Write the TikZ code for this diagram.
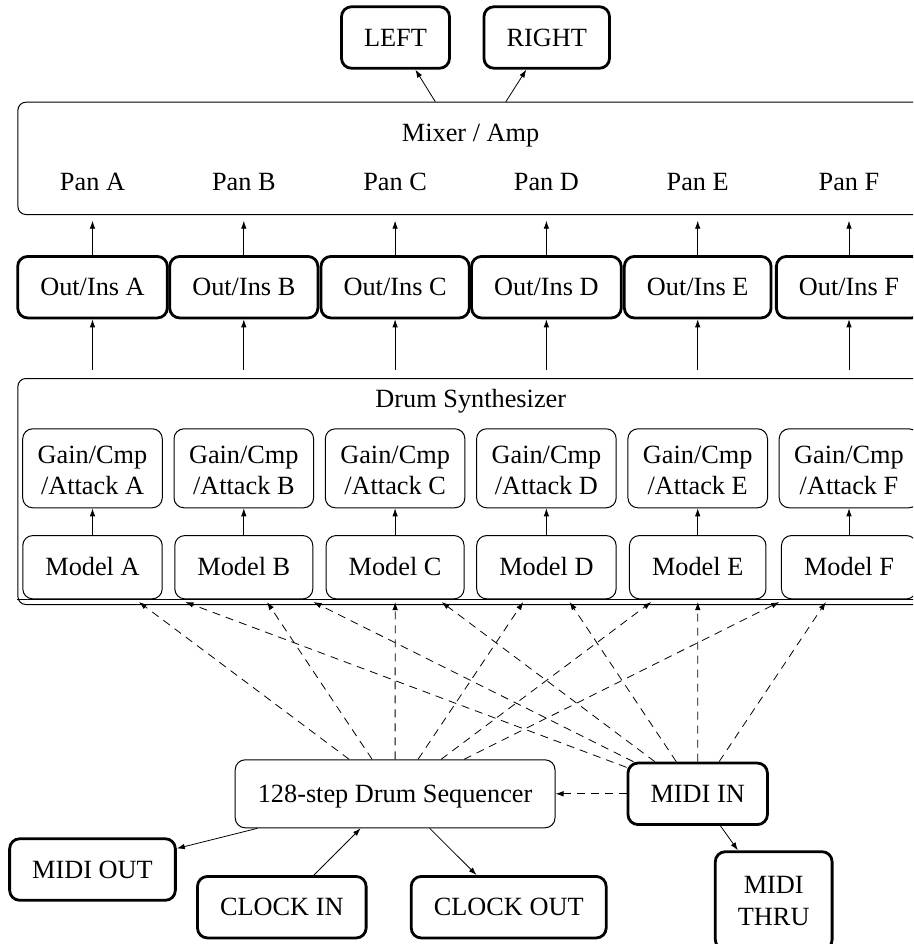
\documentclass[tikz,border=0pt]{standalone}
\usepackage{fontspec}
\setmainfont{Liberation Serif}
\usetikzlibrary{arrows.meta}
\newcommand\dfont{\fontsize{26.3pt}{31.7pt}\selectfont}
\begin{document}
\begin{tikzpicture}[x=1pt,y=-1pt,
  every node/.style={font=\dfont, text height=17.4pt, text depth=0pt},
  thickbox/.style={draw, line width=2.8pt, rounded corners=10pt, inner xsep=22.6pt, minimum height=61.5pt, align=center},
  thinbox/.style={draw, line width=1pt, rounded corners=10pt, inner xsep=22.6pt, minimum height=63.3pt, align=center},
  twoline/.style={text height=49.1pt, text depth=0pt},
  gainbox/.style={thinbox, text height=53pt, text depth=0pt, inner xsep=15pt, minimum height=79pt},
  bigbox/.style={draw, line width=1pt, rounded corners=8pt, inner sep=0pt},
  lbl/.style={inner xsep=0pt, inner ysep=30pt, anchor=base},
  arr/.style={-{Latex[length=8pt,width=5.5pt]}, line width=0.8pt},
  dsh/.style={arr, dash pattern=on 8pt off 6pt},
]
\useasboundingbox (0,0) rectangle (913,944);
\clip (0,0) rectangle (913,944);

% top outputs
\node[thickbox] (left) at (395.5,37.5) {LEFT};
\node[thickbox] (right) at (546.7,37.5) {RIGHT};

% mixer
\node[bigbox, minimum width=905.4pt, minimum height=112.3pt] (mixer) at (470.6,158.35) {};
\node[anchor=base] (mixtitle) at (470.6,142) {Mixer / Amp};

% synth
\node[bigbox, minimum width=905.4pt, minimum height=226pt] (synth) at (470.6,491.5) {};
\node[anchor=base] (synthtitle) at (470.8,407.4) {Drum Synthesizer};

\foreach \l/\x in {A/92.5,B/243.8,C/395.1,D/546.4,E/697.7,F/849.0} {
  \node[lbl] (pan\l) at (\x,190.5) {Pan \l};
  \node[thickbox] (out\l) at (\x,287.2) {Out/Ins \l};
  \node[gainbox] (gain\l) at (\x,468.3) {Gain/Cmp\\/Attack \l};
  \node[thinbox] (model\l) at (\x,567.2) {Model \l};
}

\draw[line width=1pt] (synth.west |- modelA.south) -- (synth.east |- modelA.south);

\draw[arr] ([xshift=-35.3pt]mixer.north) -- (left);
\draw[arr] ([xshift=35.3pt]mixer.north) -- (right);

\foreach \l in {A,B,C,D,E,F} {
  \draw[arr] (out\l) -- (pan\l.south);
  \draw[arr, shorten <=8pt] (synth.north -| out\l) -- (out\l);
  \draw[arr] (model\l) -- (gain\l);
}

% lower part
\node[thinbox, minimum height=68pt] (seq) at (395.1,793.8) {128-step Drum Sequencer};
\node[thickbox] (midiin) at (697.7,793.8) {MIDI IN};
\node[thickbox, twoline, minimum height=98pt] (midithru) at (773.7,900.7) {MIDI\\THRU};
\node[thickbox] (midiout) at (92.5,869.5) {MIDI OUT};
\node[thickbox] (clockin) at (281.8,907.2) {CLOCK IN};
\node[thickbox] (clockout) at (508.7,907.2) {CLOCK OUT};

\draw[arr] (seq) -- (midiout);
\draw[arr] (clockin) -- (seq);
\draw[arr] (seq) -- (clockout);
\draw[dsh] (midiin) -- (seq);
\draw[arr] (midiin) -- (midithru);

\coordinate (bl) at (0,602);
\coordinate (br) at (913,602);
\foreach \l in {A,B,C,D,E,F} {
  \draw[dsh] (seq) -- (intersection of seq--{model\l} and bl--br);
  \draw[dsh] (midiin) -- (intersection of midiin--{model\l} and bl--br);
}
\end{tikzpicture}
\end{document}
